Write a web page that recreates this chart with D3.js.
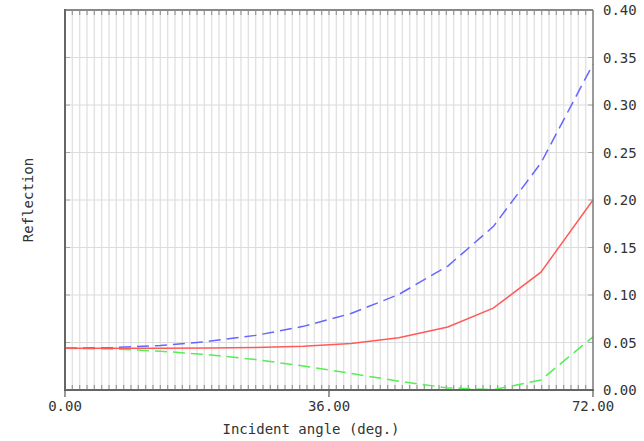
<!DOCTYPE html>
<html><head><meta charset="utf-8">
<script src="https://cdn.jsdelivr.net/npm/d3@7/dist/d3.min.js"></script>
<style>body{margin:0;background:#fff}svg{display:block}text{font-family:"DejaVu Sans Mono",monospace;fill:#333}</style>
</head><body>
<script>
const angles = [0, 6.5, 13, 19.5, 26, 32.5, 39, 45.5, 52.2, 58.4, 64.9, 72];
const sPol   = [0.044, 0.0446, 0.0469, 0.0511, 0.0575, 0.0670, 0.0805, 0.1005, 0.1305, 0.1720, 0.2390, 0.3430];
const avgPol = [0.044, 0.0439, 0.0439, 0.0442, 0.0448, 0.0461, 0.0490, 0.0549, 0.0664, 0.0862, 0.1240, 0.2000];
const pPol   = [0.044, 0.0431, 0.0409, 0.0372, 0.0320, 0.0253, 0.0175, 0.0092, 0.0022, 0.0003, 0.0105, 0.0560];
const xTickLabels = ["0.00", "36.00", "72.00"];
const yTickLabels = ["0.00","0.05","0.10","0.15","0.20","0.25","0.30","0.35","0.40"];

const W = 644, H = 441;
const L = 65, R = 593, T = 10, B = 390;
const svg = d3.select("body").append("svg").attr("width", W).attr("height", H);
const x = d3.scaleLinear().domain([0, 72]).range([L, R]);
const y = d3.scaleLinear().domain([0, 0.40]).range([B, T]);

const deg = d3.range(1, 72);
// vertical grid
svg.append("g").selectAll("line").data(deg).join("line")
  .attr("x1", d => x(d)).attr("x2", d => x(d)).attr("y1", T).attr("y2", B)
  .attr("stroke", "#e2e2e2").attr("stroke-width", 1.4);
// horizontal grid
const yv = yTickLabels.map(Number);
svg.append("g").selectAll("line").data(yv.slice(1, -1)).join("line")
  .attr("x1", L).attr("x2", R).attr("y1", d => y(d)).attr("y2", d => y(d))
  .attr("stroke", "#dcdcdc").attr("stroke-width", 1.2);
// minor ticks top & bottom
svg.append("g").selectAll("line").data(deg).join("line")
  .attr("x1", d => x(d)).attr("x2", d => x(d)).attr("y1", T).attr("y2", T + 5)
  .attr("stroke", "#999").attr("stroke-width", 1.2);
svg.append("g").selectAll("line").data(deg).join("line")
  .attr("x1", d => x(d)).attr("x2", d => x(d)).attr("y1", B - 5).attr("y2", B)
  .attr("stroke", "#999").attr("stroke-width", 1.2);
// left & right small ticks
svg.append("g").selectAll("line").data(yv.slice(1, -1)).join("line")
  .attr("x1", L).attr("x2", L + 5).attr("y1", d => y(d)).attr("y2", d => y(d))
  .attr("stroke", "#aaa").attr("stroke-width", 1);
svg.append("g").selectAll("line").data(yv.slice(1, -1)).join("line")
  .attr("x1", R - 5).attr("x2", R).attr("y1", d => y(d)).attr("y2", d => y(d))
  .attr("stroke", "#aaa").attr("stroke-width", 1);

// series
const line = vals => d3.line().x((d, i) => x(angles[i])).y(d => y(d))(vals);
svg.append("path").attr("d", line(pPol)).attr("fill", "none").attr("stroke", "#55ee55").attr("stroke-width", 1.5).attr("stroke-dasharray", "12,6");
svg.append("path").attr("d", line(sPol)).attr("fill", "none").attr("stroke", "#6666ff").attr("stroke-width", 1.5).attr("stroke-dasharray", "12,6");
svg.append("path").attr("d", line(avgPol)).attr("fill", "none").attr("stroke", "#ff5a5a").attr("stroke-width", 1.5);

// frame
svg.append("line").attr("x1", L).attr("x2", R).attr("y1", T).attr("y2", T).attr("stroke", "#888").attr("stroke-width", 2);
svg.append("line").attr("x1", R).attr("x2", R).attr("y1", T).attr("y2", B).attr("stroke", "#777").attr("stroke-width", 1.5);
svg.append("line").attr("x1", L).attr("x2", L).attr("y1", T - 1).attr("y2", B + 1).attr("stroke", "#666").attr("stroke-width", 2);
svg.append("line").attr("x1", L - 1).attr("x2", R + 1).attr("y1", B).attr("y2", B).attr("stroke", "#666").attr("stroke-width", 2);

// x axis major ticks + labels
const xv = xTickLabels.map(Number);
svg.append("g").selectAll("line").data(xv).join("line")
  .attr("x1", d => x(d)).attr("x2", d => x(d)).attr("y1", B).attr("y2", B + 7)
  .attr("stroke", "#555").attr("stroke-width", 1.2);
svg.append("g").selectAll("text").data(xTickLabels).join("text")
  .attr("x", d => x(+d)).attr("y", 411).attr("text-anchor", "middle")
  .attr("font-size", 14).text(d => d);
// y labels right
svg.append("g").selectAll("text").data(yTickLabels).join("text")
  .attr("x", 603).attr("y", d => y(+d)).attr("dy", "0.36em")
  .attr("font-size", 14).text(d => d);

svg.append("text").attr("x", 311).attr("y", 434).attr("text-anchor", "middle").attr("font-size", 14).text("Incident angle (deg.)");
svg.append("text").attr("transform", "translate(33,200) rotate(-90)").attr("text-anchor", "middle").attr("font-size", 14).text("Reflection");
</script>
</body></html>
